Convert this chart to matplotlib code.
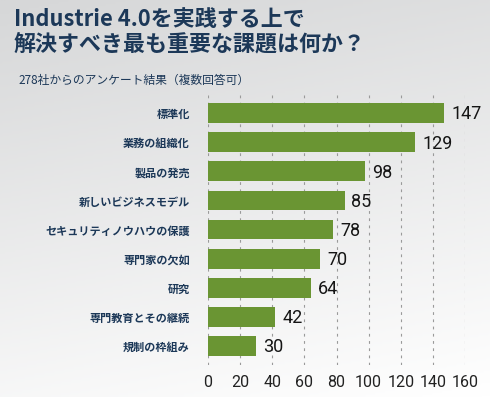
import numpy as np
import matplotlib
matplotlib.use('Agg')
import matplotlib.pyplot as plt

plt.rcParams['font.family'] = ['Noto Sans CJK JP', 'DejaVu Sans']

# data
categories = ['標準化', '業務の組織化', '製品の発売', '新しいビジネスモデル',
              'セキュリティノウハウの保護', '専門家の欠如', '研究',
              '専門教育とその継続', '規制の枠組み']
values = [147, 129, 98, 85, 78, 70, 64, 42, 30]
xticks = [0, 20, 40, 60, 80, 100, 120, 140, 160]

title = 'Industrie 4.0を実践する上で\n解決すべき最も重要な課題は何か？'
subtitle = '278社からのアンケート結果（複数回答可）'

navy = '#1c3858'
green = '#6a9533'
numfont = ['Roboto', 'DejaVu Sans']

W, H = 490, 397
fig = plt.figure(figsize=(W/100, H/100), dpi=100)

# background gradient (gray top -> white bottom)
bg = fig.add_axes([0, 0, 1, 1], zorder=-10)
yy, xx = np.mgrid[0:1:200j, 0:1:200j]
grad = np.clip(0.8*yy + 0.2*xx, 0, 1)
bg.imshow(grad, cmap=matplotlib.colors.LinearSegmentedColormap.from_list('g', ['#d6d7d8', '#ffffff']),
          aspect='auto', extent=[0, 1, 0, 1], origin='upper')
bg.set_axis_off()

ax = fig.add_axes([208/W, 32/H, (465-208)/W, (365-95)/H])
ax.patch.set_alpha(0)
ypos = np.arange(len(categories))
ax.barh(ypos, values, height=0.68, color=green, zorder=3)
ax.set_ylim(8.65, -0.62)
ax.set_xlim(0, 160)

for x in xticks:
    ax.axvline(x, color='#9a9a9a', lw=0.8, ls=(0, (2.5, 4)), zorder=1)

for y, v in zip(ypos, values):
    ax.annotate(str(v), (v, y), xytext=(5, -1), textcoords='offset points',
                va='center', ha='left', fontsize=13, family=numfont,
                color='#151515', zorder=5, annotation_clip=False)

ax.set_yticks(ypos)
ax.set_yticklabels(categories, fontsize=8, color=navy, fontweight='bold')
ax.set_xticks(xticks)
ax.set_xticklabels([str(t) for t in xticks], family=numfont, fontsize=11.5, color='#222222')
ax.tick_params(length=0, axis='y', pad=13)
ax.tick_params(length=0, axis='x', pad=7)
for s in ax.spines.values():
    s.set_visible(False)

fig.text(14/W, 1 - 8/H, title, fontsize=15.8, fontweight='bold', color=navy,
         va='top', ha='left', linespacing=1.1)
fig.text(18/W, 1 - 80/H, subtitle, fontsize=8.5, color=navy, va='center', ha='left')

fig.savefig('out.png', dpi=100)
